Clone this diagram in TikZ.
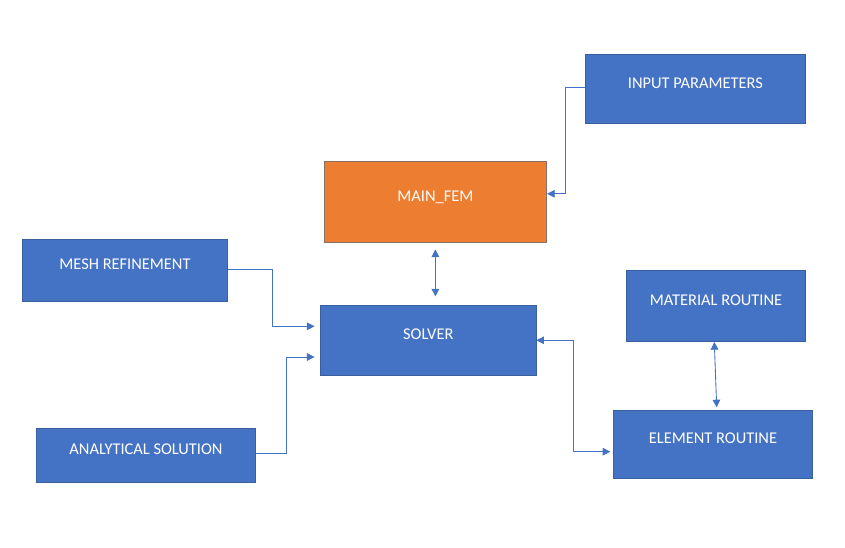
\documentclass[tikz,border=0pt]{standalone}
\usepackage{fontspec}
\setmainfont{Carlito}
\usetikzlibrary{arrows.meta,calc}
\definecolor{boxblue}{HTML}{4472C4}
\definecolor{boxedge}{HTML}{3A5F9E}
\definecolor{boxorange}{HTML}{ED7D31}
\definecolor{orangeedge}{HTML}{8C6F63}

\begin{document}
\begin{tikzpicture}[x=0.03cm,y=0.03cm,
    block/.style={rectangle,fill=boxblue,draw=boxedge,line width=0.6pt,text=white,
        font=\fontsize{14}{16}\selectfont,text height=9pt,text depth=10pt,inner sep=0pt},
    link/.style={draw=boxblue,line width=0.75pt},
    tip/.style={-{Triangle[length=6.5pt,width=6.5pt]}},
    tips/.style={{Triangle[length=6.5pt,width=6.5pt]}-{Triangle[length=6.5pt,width=6.5pt]}}]
    \useasboundingbox (0,0) rectangle (845,547);
    \node[block,minimum width=6.58cm,minimum height=2.07cm] (input) at (695.4,457.8) {INPUT PARAMETERS};
    \node[block,fill=boxorange,draw=orangeedge,minimum width=6.68cm,minimum height=2.45cm] (mainfem) at (435.4,345.2) {MAIN\_FEM};
    \node[block,minimum width=6.14cm,minimum height=1.84cm] (mesh) at (125,276.7) {MESH REFINEMENT};
    \node[block,minimum width=6.46cm,minimum height=2.12cm] (solver) at (428.3,206.7) {SOLVER};
    \node[block,minimum width=5.36cm,minimum height=2.11cm] (material) at (716,241.2) {MATERIAL ROUTINE};
    \node[block,minimum width=5.96cm,minimum height=2.03cm] (element) at (713,102.5) {ELEMENT ROUTINE};
    \node[block,minimum width=6.56cm,minimum height=1.60cm] (analytical) at (146,91.7) {ANALYTICAL SOLUTION};

    \draw[link,tip] ($(input.west)+(0,2)$) -- ++(-20,0) |- ($(mainfem.east)+(0,8)$);
    \draw[link,tips,shorten <=5.5pt,shorten >=7pt] (mainfem.south) -- (mainfem.south |- solver.north);
    \draw[link,tip] ($(mesh.east)+(0,1)$) -- ++(44.4,0) |- ($(solver.west)+(-5.7,14)$);
    \draw[link,tip] ($(analytical.east)+(0,2)$) -- ++(30.7,0) |- ($(solver.west)+(-5.7,-16.7)$);
    \draw[link,tips] (solver.east) -- ++(37.3,0) |- ($(element.west)+(-3,-7.2)$);
    \draw[link,tips] ($(material.south)+(-1.7,-0.7)$) -- ($(element.north)+(3.7,3)$);
\end{tikzpicture}
\end{document}
